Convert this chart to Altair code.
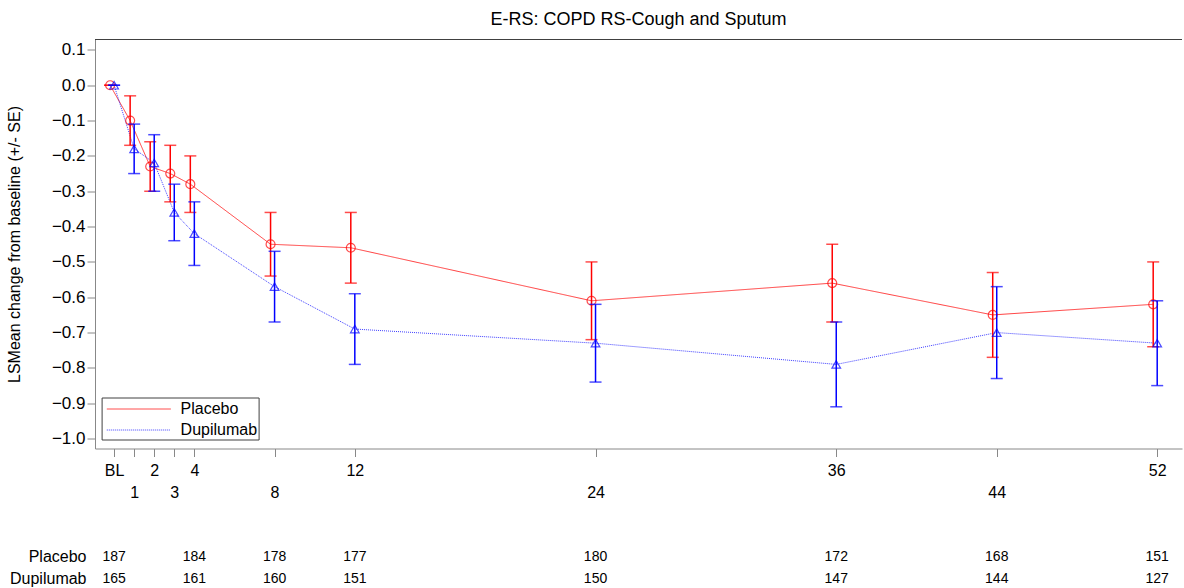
import altair as alt
import pandas as pd

# ---------------- data ----------------
weeks = [0, 1, 2, 3, 4, 8, 12, 24, 36, 44, 52]
placebo_mean = [0.00, -0.10, -0.23, -0.25, -0.28, -0.45, -0.46, -0.61, -0.56, -0.65, -0.62]
placebo_se = [0.00, 0.07, 0.07, 0.08, 0.08, 0.09, 0.10, 0.11, 0.11, 0.12, 0.12]
dupilumab_mean = [0.00, -0.18, -0.22, -0.36, -0.42, -0.57, -0.69, -0.73, -0.79, -0.70, -0.73]
dupilumab_se = [0.00, 0.07, 0.08, 0.08, 0.09, 0.10, 0.10, 0.11, 0.12, 0.13, 0.12]

groups = ["Placebo", "Dupilumab"]
colors = ["#FF0000", "#0000FF"]

y_ticks = [0.1, 0.0, -0.1, -0.2, -0.3, -0.4, -0.5, -0.6, -0.7, -0.8, -0.9, -1.0]
x_ticks = [0, 1, 2, 3, 4, 8, 12, 24, 36, 44, 52]
lower_row_ticks = [1, 3, 8, 24, 44]

n_weeks = [0, 4, 8, 12, 24, 36, 44, 52]
placebo_n = [187, 184, 178, 177, 180, 172, 168, 151]
dupilumab_n = [165, 161, 160, 151, 150, 147, 144, 127]

title_text = "E-RS: COPD RS-Cough and Sputum"
y_title = "LSMean change from baseline (+/- SE)"

# ---------------- tables ----------------
rows = []
for g, means, ses in [("Placebo", placebo_mean, placebo_se), ("Dupilumab", dupilumab_mean, dupilumab_se)]:
    for w, m, s in zip(weeks, means, ses):
        rows.append({"group": g, "week": w, "mean": m, "se": s})
df = pd.DataFrame(rows)

nrows = []
for g, ns in [("Placebo", placebo_n), ("Dupilumab", dupilumab_n)]:
    for w, n in zip(n_weeks, ns):
        nrows.append({"group": g, "week": w, "n": n})
ndf = pd.DataFrame(nrows)

FONT = "Liberation Sans"
FRAME = "#404040"
W = 1087
H = 409
TH = 39.6

xscale = alt.Scale(domain=[-0.952, 53.236], nice=False, zero=False)
yscale = alt.Scale(domain=[-1.028, 0.1294], nice=False, zero=False)

lower_test = "indexof([" + ",".join(str(v) for v in lower_row_ticks) + "], datum.value) >= 0"

x_axis = alt.Axis(
    values=x_ticks,
    title=None,
    labelExpr="datum.value == 0 ? 'BL' : datum.label",
    labelOverlap=False,
    labelFlush=False,
    labelFontSize=16,
    tickSize=8,
    labelPadding={"condition": {"test": lower_test, "value": 27.5}, "value": 6},
    grid=False,
)
y_axis = alt.Axis(
    values=y_ticks,
    format=".1f",
    title=y_title,
    titleFontSize=16,
    titleFontWeight="normal",
    titlePadding=29,
    labelFontSize=17,
    labelPadding=2,
    tickSize=8,
    grid=False,
)

legend = alt.Legend(
    title=None,
    orient="none",
    legendX=6.6,
    legendY=358,
    strokeColor=FRAME,
    fillColor="white",
    padding=1,
    symbolType="M-0.63,0H5.77",
    symbolSize=400,
    symbolStrokeWidth=1,
    symbolFillColor="transparent",
    labelFont="Arial",
    labelFontSize=16,
    labelOffset=57,
    rowPadding=2,
)


def X():
    return alt.X("xpos:Q", scale=xscale, axis=x_axis)


def Y(field):
    return alt.Y(f"{field}:Q", scale=yscale, axis=y_axis)


base = alt.Chart(df).transform_calculate(
    xpos="datum.week + (datum.group == 'Placebo' ? -0.2 : 0)",
    lo="datum.mean - datum.se",
    hi="datum.mean + datum.se",
)

lines = base.mark_line(strokeWidth=1, opacity=0.75).encode(
    x=X(),
    y=Y("mean"),
    color=alt.Color("group:N", scale=alt.Scale(domain=groups, range=colors), legend=legend),
    strokeDash=alt.StrokeDash("group:N", scale=alt.Scale(domain=groups, range=[[1, 0], [1, 1]]), legend=legend),
    order="week:Q",
)

# top edge of the frame (the right edge falls outside the picture)
top_edge = alt.Chart(df).mark_rule(color=FRAME, strokeWidth=1).encode(
    x=alt.value(0), x2=alt.value(W), y=alt.value(0)
)

layers = [top_edge, lines]
for g, c, shape, size in [("Placebo", colors[0], "circle", 80), ("Dupilumab", colors[1], "triangle-up", 75)]:
    sub = base.transform_filter(f"datum.group == '{g}'")
    layers.append(sub.mark_rule(color=c, strokeWidth=1.5).encode(x=X(), y=Y("lo"), y2="hi:Q"))
    layers.append(sub.mark_tick(color=c, orient="horizontal", size=12, thickness=1.5).encode(x=X(), y=Y("lo")))
    layers.append(sub.mark_tick(color=c, orient="horizontal", size=12, thickness=1.5).encode(x=X(), y=Y("hi")))
    layers.append(sub.mark_point(shape=shape, filled=False, size=size, strokeWidth=1.2, color=c).encode(x=X(), y=Y("mean")))

main = alt.layer(*layers).properties(
    width=W,
    height=H,
    view=alt.ViewBackground(strokeOpacity=0),
    title=alt.TitleParams(title_text, fontSize=18, fontWeight="normal", font=FONT, color="black", anchor="middle", offset=10),
)

table = alt.Chart(ndf).mark_text(fontSize=14, font=FONT, color="black").encode(
    x=alt.X("week:Q", scale=xscale, axis=None),
    y=alt.Y(
        "group:N",
        sort=groups,
        scale=alt.Scale(domain=groups, padding=0.4),
        axis=alt.Axis(title=None, ticks=False, domain=False, labelFontSize=16, labelPadding=9),
    ),
    text="n:Q",
).properties(width=W, height=TH, view=alt.ViewBackground(strokeOpacity=0))

chart = alt.vconcat(main, table, spacing=99.4, bounds="flush").properties(
    padding={"left": 6, "top": 10.5, "right": 0, "bottom": 0}
).configure_axis(
    labelFont=FONT,
    titleFont=FONT,
    labelColor="black",
    titleColor="black",
    domainColor=FRAME,
    tickColor=FRAME,
).configure_legend(
    labelColor="black"
).configure(background="white")

chart.save("out.html", embed_options={"renderer": "svg", "actions": False})
